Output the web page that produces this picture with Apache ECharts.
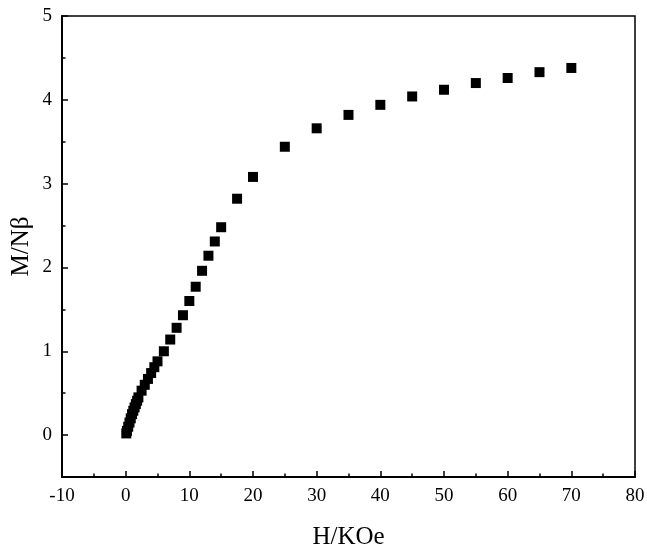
<!DOCTYPE html>
<html>
<head>
<meta charset="utf-8">
<script src="https://cdn.jsdelivr.net/npm/echarts@6/dist/echarts.min.js"></script>
<style>html,body{margin:0;padding:0;background:#fff}#c{width:647px;height:547px}</style>
</head>
<body>
<div id="c"></div>
<script>
const fieldH = [0.1,0.2,0.4,0.6,0.8,1.0,1.2,1.4,1.6,1.8,2.0,2.5,3,3.5,4,4.5,5,6,7,8,9,10,11,12,13,14,15,17.5,20,25,30,35,40,45,50,55,60,65,70];
const magM = [0.02,0.05,0.10,0.15,0.20,0.25,0.29,0.33,0.37,0.41,0.45,0.53,0.60,0.67,0.74,0.81,0.88,1.00,1.14,1.28,1.43,1.60,1.77,1.96,2.14,2.31,2.48,2.82,3.08,3.44,3.66,3.82,3.94,4.04,4.12,4.20,4.26,4.33,4.38];
const yMajor = [0,1,2,3,4,5];
const yMinor = [0.5,1.5,2.5,3.5,4.5];
const xName = 'H/KOe';
const yName = 'M/Nβ';

const font = 'Liberation Serif, Times New Roman, serif';
const chart = echarts.init(document.getElementById('c'));
chart.setOption({
  animation: false,
  grid: {left: 62, right: 12, top: 16, bottom: 70, containLabel: false, outerBoundsMode: 'none', show: true, borderColor: '#000', borderWidth: 1.5, backgroundColor: 'transparent'},
  xAxis: {
    type: 'value', min: -10, max: 80, interval: 10,
    name: xName, nameLocation: 'middle', nameGap: 48,
    nameTextStyle: {fontFamily: font, fontSize: 25, color: '#000'},
    axisLine: {onZero: false, lineStyle: {color: '#000', width: 2}},
    axisTick: {inside: true, length: 6, lineStyle: {color: '#000', width: 1.5}},
    minorTick: {show: true, splitNumber: 2, length: 3.5, lineStyle: {color: '#000', width: 1.5}},
    axisLabel: {fontFamily: font, fontSize: 19, color: '#000', margin: 10},
    splitLine: {show: false}
  },
  yAxis: [{
    type: 'value', min: -0.5, max: 5,
    name: yName, nameLocation: 'middle', nameGap: 28, nameRotate: 90, nameMoveOverlap: false,
    nameTextStyle: {fontFamily: font, fontSize: 25, color: '#000'},
    axisLine: {show: true, onZero: false, lineStyle: {color: '#000', width: 2}},
    axisTick: {show: true, inside: true, length: 6, customValues: yMajor, lineStyle: {color: '#000', width: 1.5}},
    axisLabel: {fontFamily: font, fontSize: 19, color: '#000', margin: 10, customValues: yMajor},
    splitLine: {show: false}
  }, {
    type: 'value', min: -0.5, max: 5, position: 'left',
    axisLine: {show: false, onZero: false},
    axisTick: {show: true, inside: true, length: 3.5, customValues: yMinor, lineStyle: {color: '#000', width: 1.5}},
    axisLabel: {show: false},
    splitLine: {show: false}
  }],
  series: [{
    type: 'scatter', symbol: 'rect', symbolSize: 10,
    itemStyle: {color: '#000', opacity: 1},
    data: fieldH.map((h, i) => [h, magM[i]])
  }]
});
</script>
</body>
</html>
